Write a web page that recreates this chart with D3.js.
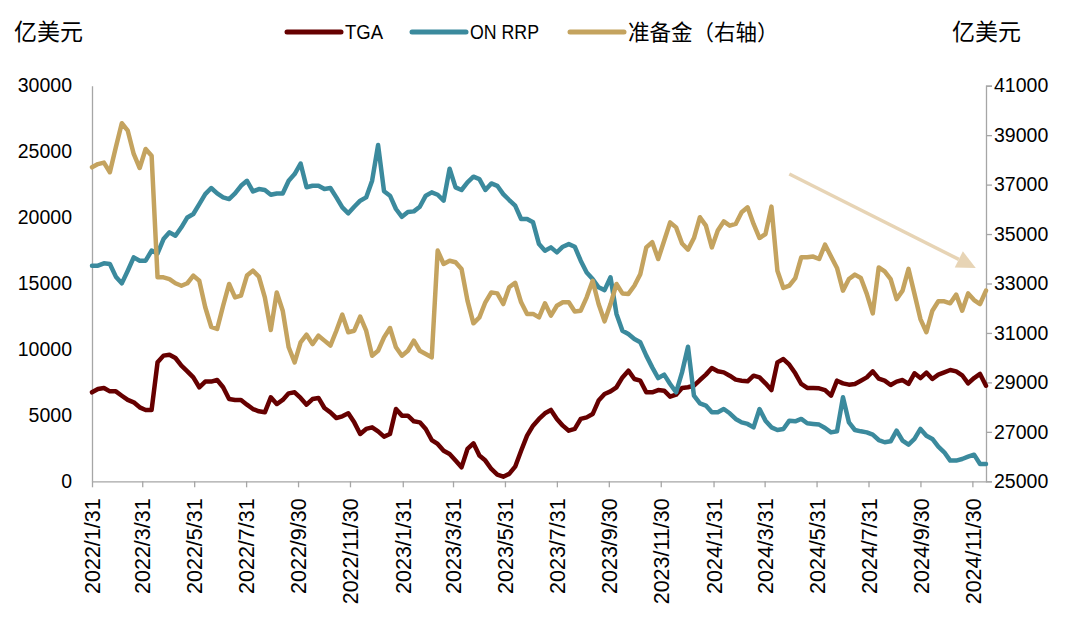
<!DOCTYPE html>
<html>
<head>
<meta charset="utf-8">
<script src="https://cdn.jsdelivr.net/npm/d3@7"></script>
<style>
html,body{margin:0;padding:0;background:#fff;}
svg{display:block;}
</style>
</head>
<body>
<svg id="chart" width="1080" height="624"></svg>
<script>
// ---- data (weekly, first week 2022/1/31) ----
const startDate = "2022-01-31";
const tga = [6750,7000,7080,6820,6820,6490,6170,5990,5610,5410,5410,9020,9530,9600,9350,8770,8340,7880,7130,7560,7560,7680,7130,6240,6170,6170,5810,5480,5310,5230,
6370,5860,6170,6670,6750,6320,5810,6240,6320,5560,5230,4800,4930,5160,4470,3590,3970,4090,3790,3390,3590,5480,4980,4980,4550,4470,3970,3130,2830,2320,
2070,1570,1060,2450,2880,1950,1570,935,505,350,560,1110,2320,3460,4220,4730,5160,5410,4730,4220,3840,3970,4730,4850,5100,6120,6620,6820,7130,7880,
8390,7760,7630,6750,6750,6920,6870,6420,6570,7080,7130,7250,7680,8090,8590,8340,8260,8010,7710,7630,7580,8010,7880,7430,6920,9020,9270,8840,8190,7380,
7080,7080,7050,6920,6490,7630,7430,7330,7380,7630,7880,8340,7780,7630,7300,7560,7680,7380,8190,7830,8240,7760,8090,8260,8440,8340,8040,7430,7830,8140,7250];
const onrrp = [16350,16350,16530,16480,15520,15010,15970,16980,16730,16730,17490,17280,18370,18880,18620,19260,20010,20270,21020,21780,22240,21830,21530,21400,21830,22410,22790,21980,22160,22090,
21730,21830,21830,22790,23300,24100,22300,22410,22410,22160,22240,21530,20770,20320,20820,21280,21530,22800,25500,22000,21660,20650,20060,20420,20470,20820,21660,21910,21730,21280,
23700,22290,22090,22670,23100,22920,22090,22590,22410,21780,21330,20900,19890,19890,19640,17990,17490,17740,17360,17790,17990,17790,16730,15840,15340,14710,14500,15470,12690,11420,
11170,10790,10540,9530,8640,7830,8090,7380,6750,8260,10200,6490,5910,5740,5230,5230,5480,5160,4730,4470,4350,4090,5480,4600,4090,3890,3970,4600,4550,4730,
4400,4350,4300,4040,3710,3790,6370,4470,3890,3790,3710,3540,3130,2960,3030,3840,3080,2780,3210,3970,3460,3210,2630,2200,1570,1570,1690,1870,2020,1310,1310];
const reserves = [37700,37830,37890,37500,38510,39480,39180,38240,37670,38440,38170,33250,33250,33180,33010,32910,33010,33320,33110,32040,31250,31160,32100,32980,32440,32510,33320,33520,33280,32440,
31120,32640,31900,30420,29810,30620,30930,30550,30890,30690,30490,31090,31740,31030,31090,31660,31090,30080,30280,30820,31200,30420,30080,30280,30690,30280,30150,30010,34330,33790,
33920,33860,33590,32310,31390,31630,32240,32640,32600,32170,32850,33030,32240,31770,31770,31630,32200,31700,32100,32240,32240,31870,31900,32440,33110,32170,31470,32170,32980,32600,
32580,32910,33380,34460,34670,33990,34730,35470,35270,34620,34370,34840,35680,35340,34460,35140,35510,35340,35410,35880,36080,35410,34840,35000,36110,33520,32820,32910,33220,34060,
34060,34090,33990,34570,34090,33630,32710,33180,33360,33220,32580,31790,33650,33490,33180,32370,32710,33590,32580,31560,31030,31900,32280,32280,32200,32550,31900,32600,32330,32170,32710];
const xTickLabels = ["2022/1/31","2022/3/31","2022/5/31","2022/7/31","2022/9/30","2022/11/30",
  "2023/1/31","2023/3/31","2023/5/31","2023/7/31","2023/9/30","2023/11/30",
  "2024/1/31","2024/3/31","2024/5/31","2024/7/31","2024/9/30","2024/11/30"];
const leftTicks = [0,5000,10000,15000,20000,25000,30000];
const rightTicks = [25000,27000,29000,31000,33000,35000,37000,39000,41000];
const seriesNames = ["TGA","ON RRP","准备金（右轴）"];
const seriesColors = ["#660000","#3B8A9D","#C4A35F"];
const unitLabel = "亿美元";
// trend arrow (on right axis): [date, value]
const arrowStart = ["2024-04-29", 37430];
const arrowEnd = ["2024-12-04", 33630];

// ---- scales ----
const parse = d3.utcParse("%Y-%m-%d");
const parseTick = d3.utcParse("%Y/%m/%d");
const t0 = parse(startDate);
const dates = tga.map((_, i) => d3.utcDay.offset(t0, 7 * i));
const X0 = 92, X1 = 986, YB = 481.3, YT = 85.7;
const x = d3.scaleUtc().domain([dates[0], dates[dates.length - 1]]).range([X0, X1]);
const yL = d3.scaleLinear().domain([0, 30000]).range([YB, YT]);
const yR = d3.scaleLinear().domain([25000, 41000]).range([YB, YT]);

const svg = d3.select("#chart");
svg.append("rect").attr("width",1080).attr("height",624).attr("fill","#fff");

const axisColor = "#A6A6A6";
const numFont = "'Liberation Sans', Arial, sans-serif";

// left axis
const gL = svg.append("g").attr("transform", `translate(${X0},0)`)
  .call(d3.axisLeft(yL).tickValues(leftTicks).tickSize(0).tickPadding(20).tickFormat(d3.format("d")));
gL.select(".domain").attr("stroke", axisColor).attr("stroke-width", 1.3);
gL.selectAll("text").attr("font-family", numFont).attr("font-size", 19.5).attr("fill", "#000");

// right axis
const gR = svg.append("g").attr("transform", `translate(${X1},0)`)
  .call(d3.axisRight(yR).tickValues(rightTicks).tickSize(6).tickPadding(2).tickFormat(d3.format("d")));
gR.select(".domain").attr("stroke", axisColor).attr("stroke-width", 1.3);
gR.selectAll(".tick line").attr("stroke", axisColor).attr("stroke-width", 1.3);
gR.selectAll("text").attr("font-family", numFont).attr("font-size", 19.5).attr("fill", "#000");

// bottom axis
const tickDates = xTickLabels.map(parseTick);
const gB = svg.append("g").attr("transform", `translate(0,${YB})`)
  .call(d3.axisBottom(x).tickValues(tickDates).tickSize(6).tickSizeOuter(0).tickFormat((d, i) => xTickLabels[i]));
gB.select(".domain").attr("stroke", axisColor).attr("stroke-width", 1.3);
gB.selectAll(".tick line").attr("stroke", axisColor).attr("stroke-width", 1.3);
gB.selectAll("text")
  .attr("font-family", numFont).attr("font-size", 21.5).attr("fill", "#000")
  .attr("text-anchor", "end").attr("transform", "translate(0,17) rotate(-90)")
  .attr("x", 0).attr("y", 0).attr("dy", "0.36em");

// lines
const mkLine = (yScale) => d3.line().x((d, i) => x(dates[i])).y(d => yScale(d));
const data = [[tga, yL], [onrrp, yL], [reserves, yR]];
data.forEach(([vals, ys], k) => {
  svg.append("path").datum(vals)
    .attr("d", mkLine(ys))
    .attr("fill", "none")
    .attr("stroke", seriesColors[k])
    .attr("stroke-width", 4.5)
    .attr("stroke-linejoin", "round")
    .attr("stroke-linecap", "round");
});

// arrow
const ax0 = x(parse(arrowStart[0])), ay0 = yR(arrowStart[1]);
const ax1 = x(parse(arrowEnd[0])), ay1 = yR(arrowEnd[1]);
const ang = Math.atan2(ay1 - ay0, ax1 - ax0);
const headL = 19, headW = 9;
const bx = ax1 - headL * Math.cos(ang), by = ay1 - headL * Math.sin(ang);
const arrowColor = "#E7D4B5";
svg.append("line").attr("x1", ax0).attr("y1", ay0).attr("x2", bx).attr("y2", by)
  .attr("stroke", arrowColor).attr("stroke-width", 3.5);
svg.append("path")
  .attr("d", `M${ax1},${ay1}L${bx + headW * Math.sin(ang)},${by - headW * Math.cos(ang)}L${bx - headW * Math.sin(ang)},${by + headW * Math.cos(ang)}Z`)
  .attr("fill", arrowColor);

// unit labels
const cjk = "'Noto Sans CJK SC', sans-serif";
svg.append("text").attr("x", 14).attr("y", 32).attr("dy", "0.35em")
  .attr("font-family", cjk).attr("font-size", 23).text(unitLabel);
svg.append("text").attr("x", 952).attr("y", 32).attr("dy", "0.35em")
  .attr("font-family", cjk).attr("font-size", 23).text(unitLabel);

// legend
const legX = [285, 410, 568];
const legTextLen = [38, 69, null];
const legend = svg.append("g");
seriesNames.forEach((name, k) => {
  legend.append("line").attr("x1", legX[k] + 2).attr("x2", legX[k] + 56)
    .attr("y1", 32).attr("y2", 32)
    .attr("stroke", seriesColors[k]).attr("stroke-width", 5).attr("stroke-linecap", "round");
  const t = legend.append("text").attr("x", legX[k] + 60).attr("y", 32).attr("dy", "0.35em")
    .attr("font-family", k === 2 ? cjk : numFont)
    .attr("font-size", k === 2 ? 21.5 : 21).text(name);
  if (legTextLen[k]) t.attr("textLength", legTextLen[k]).attr("lengthAdjust", "spacingAndGlyphs");
});
</script>
</body>
</html>
